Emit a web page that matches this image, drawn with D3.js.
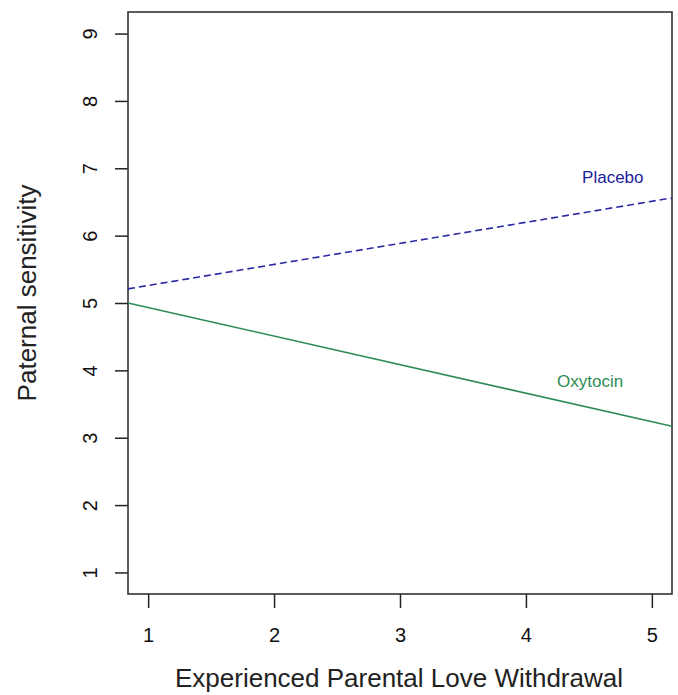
<!DOCTYPE html>
<html>
<head>
<meta charset="utf-8">
<script src="https://cdn.jsdelivr.net/npm/d3@7"></script>
<style>
  html, body { margin: 0; padding: 0; background: #fff; }
  svg { display: block; font-family: "Liberation Sans", Arial, sans-serif; }
</style>
</head>
<body>
<svg id="chart" width="678" height="695"></svg>
<script>
// ---- data ----
const xDomain = [0.84, 5.16];
const yDomain = [0.68, 9.32];
const xTicks = [1, 2, 3, 4, 5];
const yTicks = [1, 2, 3, 4, 5, 6, 7, 8, 9];
const lineX = [0.84, 5.16];
const placebo = [5.21, 6.56];
const oxytocin = [5.00, 3.17];
const seriesNames = ["Placebo", "Oxytocin"];
const labelPos = [[4.69, 6.78], [4.51, 3.76]];
const xTitle = "Experienced Parental Love Withdrawal";
const yTitle = "Paternal sensitivity";

// ---- layout ----
const svg = d3.select("#chart");
const L = 128, R = 672, T = 12, B = 594;
const x = d3.scaleLinear().domain(xDomain).range([L, R]);
const y = d3.scaleLinear().domain(yDomain).range([B, T]);

// axes
const xAxis = svg.append("g").attr("transform", `translate(0,${B})`)
  .call(d3.axisBottom(x).tickValues(xTicks).tickSize(14).tickPadding(20).tickFormat(d3.format("d")));
xAxis.select(".domain").remove();
xAxis.selectAll("line").attr("stroke", "#222").attr("stroke-width", 1.5);
xAxis.selectAll("text").attr("font-size", 20).attr("fill", "#111")
  .attr("font-family", "Liberation Sans, Arial, sans-serif");

const yAxis = svg.append("g").attr("transform", `translate(${L},0)`)
  .call(d3.axisLeft(y).tickValues(yTicks).tickSize(13).tickFormat(d3.format("d")));
yAxis.select(".domain").remove();
yAxis.selectAll("line").attr("stroke", "#222").attr("stroke-width", 1.5);
yAxis.selectAll("text").remove();
yAxis.selectAll(".tick").append("text")
  .attr("transform", "translate(-31,0) rotate(-90)")
  .attr("text-anchor", "middle")
  .attr("dy", "0em")
  .attr("font-size", 20).attr("fill", "#111")
  .attr("font-family", "Liberation Sans, Arial, sans-serif")
  .text(d => d);

// plot box
svg.append("rect").attr("x", L).attr("y", T).attr("width", R - L).attr("height", B - T)
  .attr("fill", "none").attr("stroke", "#333").attr("stroke-width", 1.6);

// lines
const line = d3.line().x(d => x(d[0])).y(d => y(d[1]));
svg.append("path").datum(lineX.map((v, i) => [v, placebo[i]]))
  .attr("d", line).attr("fill", "none").attr("stroke", "#2a2aa5")
  .attr("stroke-width", 1.6).attr("stroke-dasharray", "7,4");
svg.append("path").datum(lineX.map((v, i) => [v, oxytocin[i]]))
  .attr("d", line).attr("fill", "none").attr("stroke", "#2e8b57")
  .attr("stroke-width", 1.6);

// labels
const labelColors = ["#1c1c9c", "#2e8b57"];
seriesNames.forEach((n, i) => {
  svg.append("text").attr("x", x(labelPos[i][0])).attr("y", y(labelPos[i][1]))
    .attr("text-anchor", "middle").attr("font-size", 17).attr("fill", labelColors[i])
    .text(n);
});

// titles
svg.append("text").attr("x", (173 + 625) / 2).attr("y", 687)
  .attr("text-anchor", "middle").attr("font-size", 26).attr("fill", "#222").text(xTitle);
svg.append("text").attr("transform", `translate(36,293) rotate(-90)`)
  .attr("text-anchor", "middle").attr("font-size", 26).attr("fill", "#222").text(yTitle);
</script>
</body>
</html>
